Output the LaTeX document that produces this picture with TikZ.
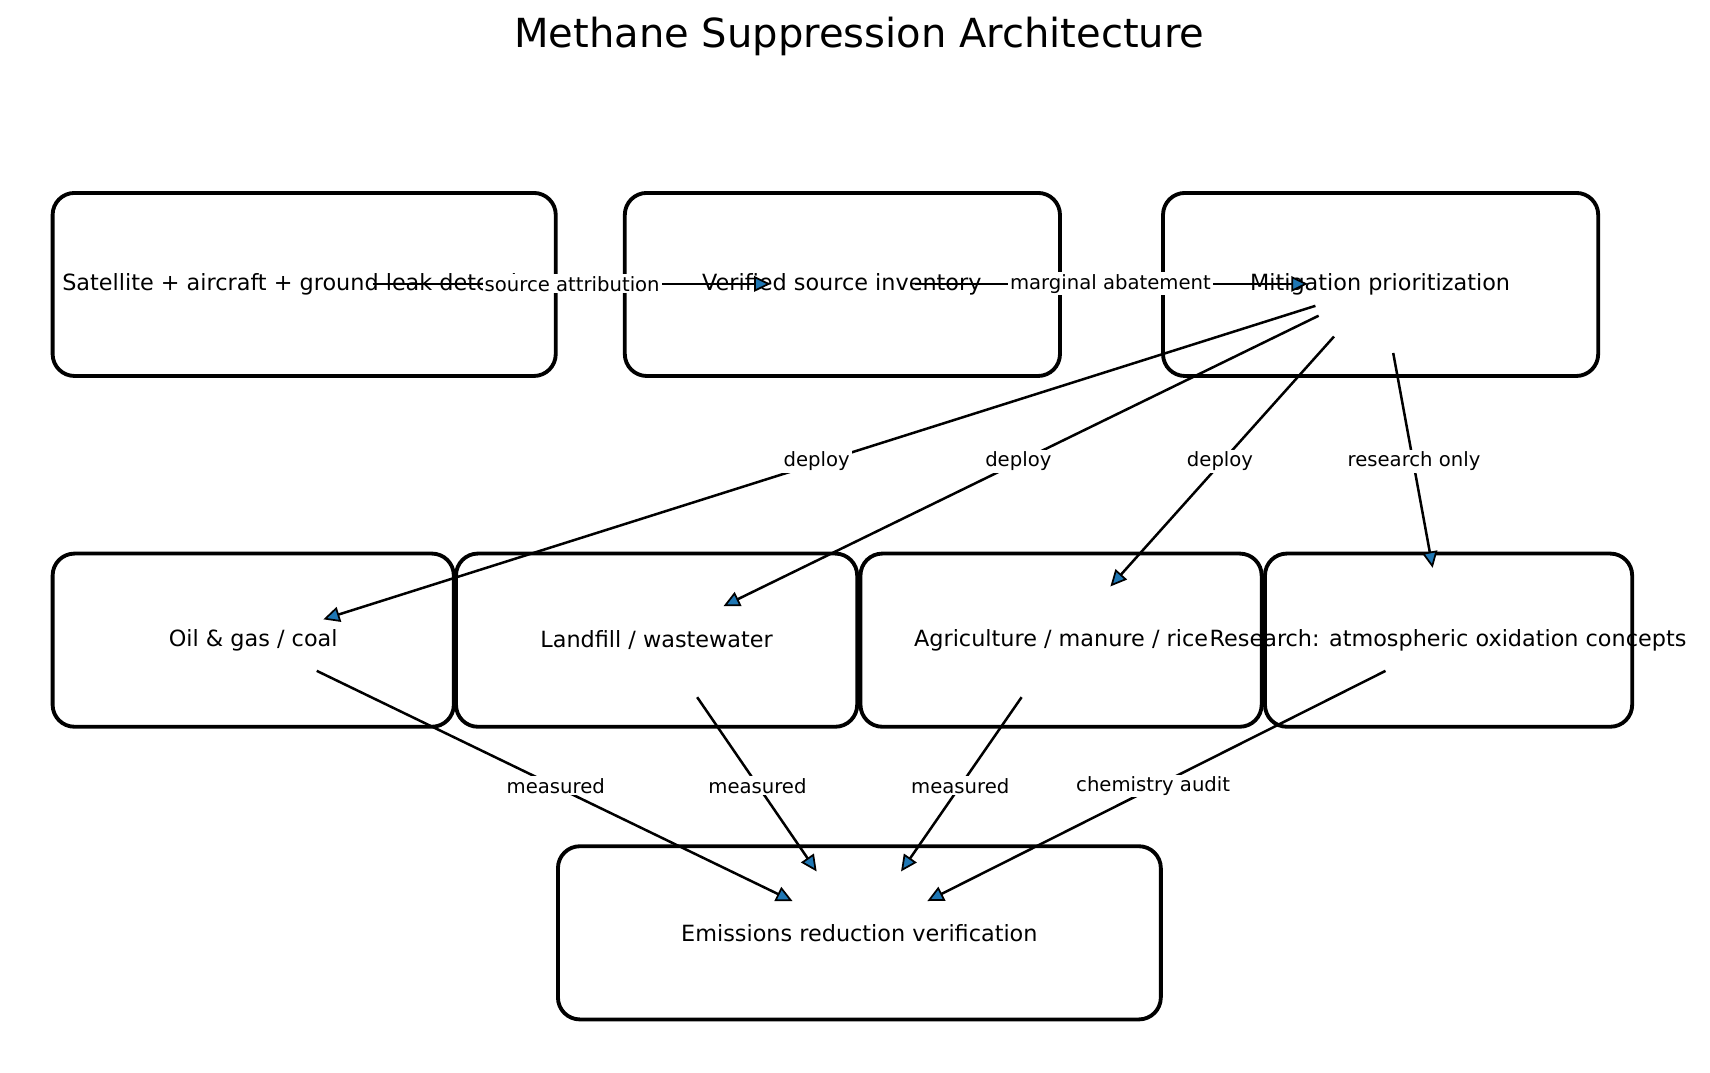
\documentclass[tikz,border=0pt]{standalone}
\usepackage{fontspec}
\setmainfont{DejaVu Sans}
\usetikzlibrary{arrows.meta}
\definecolor{tipblue}{RGB}{31,119,180}
\tikzset{
  stage/.style={draw=black,line width=2pt,rounded corners=0.4cm},
  flow/.style={draw=black,line width=1.3pt,-{Triangle[length=8.5pt,width=8pt,fill=tipblue,line width=0.9pt]}},
  tag/.style={fill=white,inner sep=1pt,font=\fontsize{10.2}{12}\selectfont}
}
\begin{document}
\begin{tikzpicture}[x=0.02cm,y=-0.02cm,font=\fontsize{11.6}{14}\selectfont]
	\useasboundingbox (0,0) rectangle (1560,978);
	\node (title) at (784,33) {\fontsize{20.8}{25}\selectfont Methane Suppression Architecture};
	% boxes
	\draw [stage] (48,176) rectangle (507,343);
	\draw [stage] (570,176) rectangle (967,343);
	\draw [stage] (1061,176) rectangle (1458,343);
	\draw [stage] (48,505) rectangle (414,663);
	\draw [stage] (416,505) rectangle (782,663);
	\draw [stage] (785,505) rectangle (1151,663);
	\draw [stage] (1154,505) rectangle (1489,663);
	\draw [stage] (509,772) rectangle (1059,930);
	% arrow ends
	\coordinate (s0) at (340,259); \coordinate (v1) at (703,259);
	\coordinate (v0) at (835,259); \coordinate (m1) at (1193,259);
	\coordinate (m0) at (1200,279); \coordinate (o1) at (295,565);
	\coordinate (m2) at (1203,288); \coordinate (l1) at (660,553);
	\coordinate (m3) at (1217,307); \coordinate (a1) at (1013,535);
	\coordinate (m4) at (1271,322); \coordinate (r1) at (1307,518);
	\coordinate (o0) at (289,612); \coordinate (e1) at (723,822);
	\coordinate (l0) at (636,636); \coordinate (e2) at (745,795);
	\coordinate (a0) at (932,636); \coordinate (e3) at (822,795);
	\coordinate (r0) at (1264,612); \coordinate (e4) at (846,822);
	% box texts
	\node (sat) at (277,259) {Satellite + aircraft + ground leak detection};
	\node (inv) at (768,259) {Verified source inventory};
	\node (mit) at (1259,259) {Mitigation prioritization};
	\node (oil) at (231,584) {Oil \& gas / coal};
	\node (lan) at (599,584) {Landfill / wastewater};
	\node (agr) at (968,584) {Agriculture / manure / rice};
	\node (res) at (1321,584) {Research: atmospheric oxidation concepts};
	\node (ver) at (784,851) {Emissions reduction verification};
	% connectors
	\draw [flow] (s0) -- (v1);
	\draw [flow] (v0) -- (m1);
	\draw [flow] (m0) -- (o1);
	\draw [flow] (m2) -- (l1);
	\draw [flow] (m3) -- (a1);
	\draw [flow] (m4) -- (r1);
	\draw [flow] (o0) -- (e1);
	\draw [flow] (l0) -- (e2);
	\draw [flow] (a0) -- (e3);
	\draw [flow] (r0) -- (e4);
	% connector labels
	\node [tag] (t1) at (522,259) {source attribution};
	\node [tag] (t2) at (1013,259) {marginal abatement};
	\node [tag] (t3) at (745,421) {deploy};
	\node [tag] (t4) at (929,421) {deploy};
	\node [tag] (t5) at (1113,421) {deploy};
	\node [tag] (t6) at (1290,421) {research only};
	\node [tag] (t7) at (507,717) {measured};
	\node [tag] (t8) at (691,717) {measured};
	\node [tag] (t9) at (876,717) {measured};
	\node [tag] (t10) at (1052,717) {chemistry audit};
\end{tikzpicture}
\end{document}
